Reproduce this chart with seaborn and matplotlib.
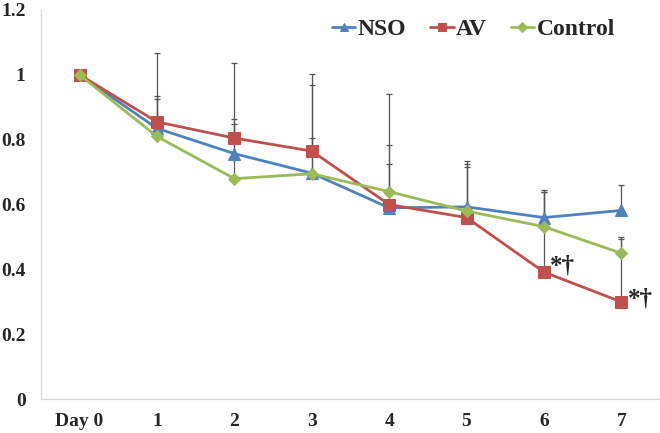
import matplotlib
matplotlib.use("Agg")
import matplotlib.pyplot as plt
import pandas as pd
import seaborn as sns

days = ["Day 0", "1", "2", "3", "4", "5", "6", "7"]
nso = [1.0, 0.835, 0.757, 0.697, 0.590, 0.593, 0.560, 0.582]
av = [1.0, 0.855, 0.805, 0.765, 0.600, 0.560, 0.392, 0.300]
control = [1.0, 0.810, 0.680, 0.695, 0.640, 0.580, 0.532, 0.450]

# upper error bar tops
nso_top = [1.0, 0.935, 0.865, 0.970, 0.785, 0.725, 0.645, 0.660]
av_top = [1.0, 1.068, 1.035, 1.003, 0.942, 0.735, 0.640, 0.495]
control_top = [1.0, 0.925, 0.848, 0.805, 0.725, 0.715, 0.640, 0.500]

groups = ["NSO", "AV", "Control"]
colors = {"NSO": "#4F81BD", "AV": "#C0504D", "Control": "#9BBB59"}
markers = {"NSO": "^", "AV": "s", "Control": "D"}
sizes = {"NSO": 8, "AV": 8, "Control": 6}

rows = []
for g, vals, tops in zip(groups, [nso, av, control], [nso_top, av_top, control_top]):
    for i, (v, t) in enumerate(zip(vals, tops)):
        rows.append({"day": i, "group": g, "value": v, "top": t})
df = pd.DataFrame(rows)

sns.set_style("white")
plt.rcParams["font.family"] = ["Liberation Serif", "DejaVu Serif"]
plt.rcParams["font.weight"] = "bold"

fig = plt.figure(figsize=(6.6, 4.33), dpi=100)
ax = fig.add_axes([0.062, 0.078, 0.938, 0.899])

for g in groups:
    d = df[df["group"] == g]
    ax.errorbar(d["day"], d["value"], yerr=[[0] * len(d), d["top"] - d["value"]],
                fmt="none", ecolor="#555555", elinewidth=0.9, capsize=2,
                capthick=0.9, zorder=1)

for g in groups:
    d = df[df["group"] == g]
    sns.lineplot(data=d, x="day", y="value", ax=ax, color=colors[g],
                 marker=markers[g], markersize=sizes[g], markeredgecolor=colors[g],
                 linewidth=2, label=g, zorder=3)

ax.text(6.08, 0.41, "*†", fontsize=18, ha="left", va="center")
ax.text(7.09, 0.31, "*†", fontsize=18, ha="left", va="center")

ax.set_xlim(-0.5, 7.5)
ax.set_ylim(0, 1.2)
ax.set_xticks(range(len(days)))
ax.set_xticklabels(days)
ax.set_yticks([0, 0.2, 0.4, 0.6, 0.8, 1.0, 1.2])
ax.set_yticklabels(["0", "0.2", "0.4", "0.6", "0.8", "1", "1.2"])
ax.tick_params(axis="x", labelsize=14, length=0, pad=10)
ax.tick_params(axis="y", labelsize=14, length=0, pad=11)
for lab in ax.get_xticklabels() + ax.get_yticklabels():
    lab.set_fontweight("bold")
ax.set_xlabel("")
ax.set_ylabel("")

for side in ["top", "right"]:
    ax.spines[side].set_visible(False)
for side in ["left", "bottom"]:
    ax.spines[side].set_color("#D9D9D9")
    ax.spines[side].set_linewidth(1)

leg = ax.legend(loc="upper right", bbox_to_anchor=(0.95, 1.015), ncol=3, frameon=False,
                prop={"size": 17, "weight": "bold"}, handlelength=1.0,
                handletextpad=0.1, columnspacing=1.0, borderaxespad=0.2,
                markerscale=0.8)

fig.savefig("out.png", dpi=100)
